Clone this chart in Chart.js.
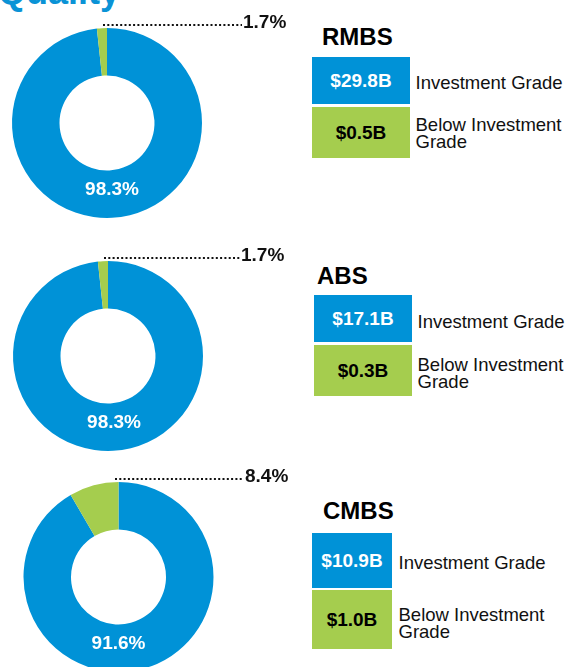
<!DOCTYPE html>
<html>
<head>
<meta charset="utf-8">
<script src="https://cdn.jsdelivr.net/npm/chart.js@4"></script>
<style>
  html, body { margin: 0; padding: 0; background: #fff; }
  body { width: 569px; height: 667px; overflow: hidden; position: relative;
         font-family: "Liberation Sans", Arial, sans-serif; }
  .abs { position: absolute; }
  .title { font-weight: bold; font-size: 24px; line-height: 24px; color: #000; white-space: nowrap; }
  .box { display: flex; align-items: center; justify-content: center;
         font-weight: bold; font-size: 19px; }
  .lbl { font-size: 18.5px; line-height: 17px; color: #111; width: 152px; }
  #heading { left: -2px; top: -26.5px; font-weight: bold; font-size: 36px; line-height: 36px; color: #0A93D6; }
</style>
</head>
<body>
<div id="heading" class="abs">Quality</div>

<script>
// --- Datos ---
const segments = ['RMBS', 'ABS', 'CMBS'];
const gradeNames = ['Investment Grade', 'Below Investment Grade'];
const investmentGradeB = [29.8, 17.1, 10.9];     // $B
const belowInvestmentB = [0.5, 0.3, 1.0];        // $B
const investmentGradePct = [98.3, 98.3, 91.6];
const belowInvestmentPct = [1.7, 1.7, 8.4];

const BLUE = '#0092D7';
const GREEN = '#A5CD4E';

// --- Layout (posiciones, no datos) ---
const donutLayout = [
    { top: 0,   h: 230, pad: { left: 12,   right: 98,   top: 28, bottom: 12 }, innerDx: 5, calloutX: 243 },
    { top: 235, h: 230, pad: { left: 13,   right: 97,   top: 26, bottom: 14 }, innerDx: 6, calloutX: 241 },
    { top: 465, h: 215, pad: { left: 23.5, right: 86.5, top: 17, bottom: 8 },  innerDx: 0, calloutX: 245 },
];

const legendLayout = [
    { titleX: 322, titleY: 25,  boxX: 312, boxW: 98, blueY: 57,  blueH: 47, greenY: 107, greenH: 51, lblX: 415.5, igY: 74,  bigY: 116 },
    { titleX: 317, titleY: 264, boxX: 314, boxW: 98, blueY: 295, blueH: 47, greenY: 345, greenH: 51, lblX: 417.5, igY: 313, bigY: 356 },
    { titleX: 323, titleY: 499, boxX: 312, boxW: 80, blueY: 533, blueH: 55, greenY: 590, greenH: 59, lblX: 398.5, igY: 554, bigY: 606 },
];

const FONT = '"Liberation Sans", Arial, sans-serif';

// plugin: etiqueta interior + línea de puntos con el porcentaje pequeño
const calloutPlugin = {
    id: 'callout',
    afterDraw(chart, args, opts) {
        const arc = chart.getDatasetMeta(0).data[0];
        if (!arc) return;
        const { x, y, outerRadius } = arc;
        const ctx = chart.ctx;
        ctx.save();
        ctx.font = 'bold 19px ' + FONT;
        ctx.textBaseline = 'alphabetic';

        // etiqueta grande dentro del anillo
        ctx.fillStyle = '#fff';
        ctx.textAlign = 'center';
        ctx.fillText(opts.inner, x + opts.innerDx, y + 72);

        // línea punteada (en píxel entero para que los puntos salgan nítidos)
        const lineY = Math.round(y - outerRadius - 3.5);
        ctx.strokeStyle = '#111';
        ctx.lineWidth = 2;
        ctx.setLineDash([2, 2.3]);
        ctx.beginPath();
        ctx.moveTo(Math.round(x - 4), lineY);
        ctx.lineTo(opts.calloutX - 1, lineY);
        ctx.stroke();

        ctx.fillStyle = '#111';
        ctx.textAlign = 'left';
        ctx.fillText(opts.outer, opts.calloutX, y - outerRadius - 0.5);
        ctx.restore();
    }
};

segments.forEach((seg, i) => {
    const lay = donutLayout[i];
    const canvas = document.createElement('canvas');
    canvas.width = 300;
    canvas.height = lay.h;
    canvas.className = 'abs';
    canvas.style.left = '0px';
    canvas.style.top = lay.top + 'px';
    canvas.style.width = '300px';
    canvas.style.height = lay.h + 'px';
    document.body.appendChild(canvas);

    new Chart(canvas.getContext('2d'), {
        type: 'doughnut',
        data: {
            labels: gradeNames,
            datasets: [{
                data: [investmentGradePct[i], belowInvestmentPct[i]],
                backgroundColor: [BLUE, GREEN],
                borderWidth: 0,
                hoverOffset: 0,
                offset: 0,
            }]
        },
        options: {
            responsive: false,
            animation: false,
            events: [],
            cutout: '50%',
            layout: { padding: lay.pad },
            plugins: {
                legend: { display: false },
                tooltip: { enabled: false },
                callout: {
                    inner: investmentGradePct[i].toFixed(1) + '%',
                    outer: belowInvestmentPct[i].toFixed(1) + '%',
                    innerDx: lay.innerDx,
                    calloutX: lay.calloutX,
                }
            }
        },
        plugins: [calloutPlugin]
    });

    // --- leyenda en HTML ---
    const L = legendLayout[i];
    const add = (cls, css, text) => {
        const d = document.createElement('div');
        d.className = 'abs ' + cls;
        Object.assign(d.style, css);
        d.textContent = text;
        document.body.appendChild(d);
        return d;
    };
    add('title', { left: L.titleX + 'px', top: L.titleY + 'px' }, seg);
    add('box', { left: L.boxX + 'px', top: L.blueY + 'px', width: L.boxW + 'px', height: L.blueH + 'px',
                 background: BLUE, color: '#fff' }, '$' + investmentGradeB[i].toFixed(1) + 'B');
    add('box', { left: L.boxX + 'px', top: L.greenY + 'px', width: L.boxW + 'px', height: L.greenH + 'px',
                 background: GREEN, color: '#000' }, '$' + belowInvestmentB[i].toFixed(1) + 'B');
    add('lbl', { left: L.lblX + 'px', top: L.igY + 'px' }, gradeNames[0]);
    add('lbl', { left: L.lblX + 'px', top: L.bigY + 'px' }, gradeNames[1]);
});
</script>
</body>
</html>
